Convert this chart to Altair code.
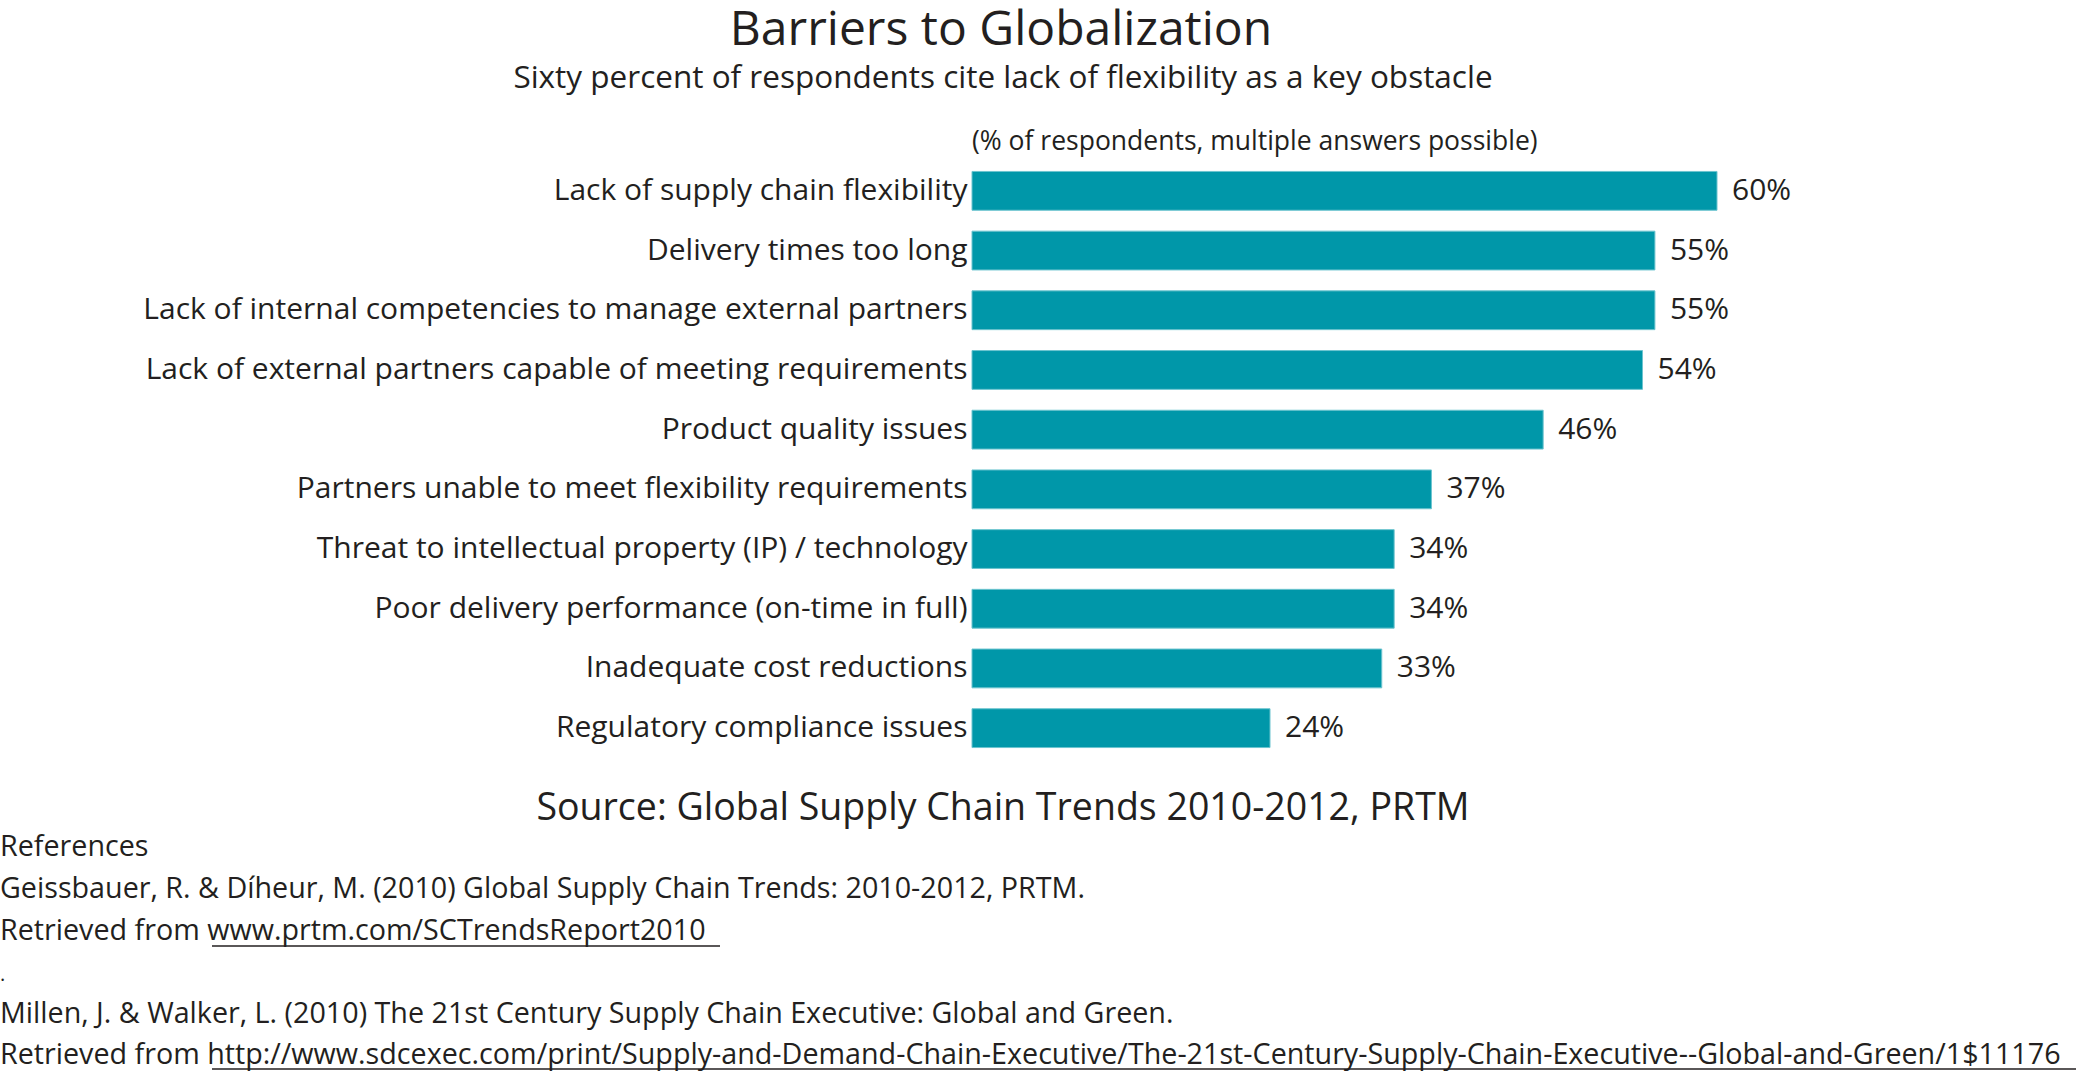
import altair as alt
import pandas as pd

categories = [
    "Lack of supply chain flexibility",
    "Delivery times too long",
    "Lack of internal competencies to manage external partners",
    "Lack of external partners capable of meeting requirements",
    "Product quality issues",
    "Partners unable to meet flexibility requirements",
    "Threat to intellectual property (IP) / technology",
    "Poor delivery performance (on-time in full)",
    "Inadequate cost reductions",
    "Regulatory compliance issues",
]
values = [60, 55, 55, 54, 46, 37, 34, 34, 33, 24]

title_text = "Barriers to Globalization"
subtitle_text = "Sixty percent of respondents cite lack of flexibility as a key obstacle"
note_text = "(% of respondents, multiple answers possible)"
source_text = "Source: Global Supply Chain Trends 2010-2012, PRTM"
ref_lines = [
    "References",
    "Geissbauer, R. & Díheur, M. (2010) Global Supply Chain Trends: 2010-2012, PRTM.",
    "Retrieved from www.prtm.com/SCTrendsReport2010 ",
    ".",
    "Millen, J. & Walker, L. (2010) The 21st Century Supply Chain Executive: Global and Green.",
    "Retrieved from http://www.sdcexec.com/print/Supply-and-Demand-Chain-Executive/The-21st-Century-Supply-Chain-Executive--Global-and-Green/1$11176",
]

df = pd.DataFrame({"category": categories, "value": values})
df["label"] = [f"{v}%" for v in values]

FONT = "Open Sans"
TXT = "#231f20"
BAR = "#0097a9"

W, H = 745, 597
LEFT, TOP = 972, 161

y_enc = alt.Y(
    "category:N",
    sort=categories,
    title=None,
    scale=alt.Scale(paddingInner=0.35, paddingOuter=0.175),
    axis=alt.Axis(
        domain=False, ticks=False, labelLimit=1200, labelPadding=5,
        labelFont=FONT, labelFontSize=30, labelColor=TXT,
    ),
)
x_enc = alt.X(
    "value:Q",
    title=None,
    scale=alt.Scale(domain=[0, 60], nice=False),
    axis=None,
)

bars = alt.Chart(df).mark_bar(color=BAR, stroke="#6cc4cf", strokeWidth=1).encode(x=x_enc, y=y_enc)
labels = alt.Chart(df).mark_text(
    align="left", baseline="middle", dx=15, font=FONT, fontSize=30, color=TXT
).encode(x=x_enc, y=y_enc, text="label:N")

one = alt.Data(values=[{"a": 1}])

def txt(text, x, y, size, align="left"):
    return alt.Chart(one).mark_text(
        text=text, align=align, baseline="middle", font=FONT, fontSize=size, color=TXT
    ).encode(x=alt.value(x), y=alt.value(y))

def uline(x1, x2, y):
    return alt.Chart(one).mark_rule(color=TXT, strokeWidth=1.5).encode(
        x=alt.value(x1), x2=alt.value(x2), y=alt.value(y)
    )

ref_y = [847, 889, 931, 975, 1014, 1055]

layers = [
    bars, labels,
    txt(title_text, 1001 - LEFT, 31 - TOP, 48, "center"),
    txt(subtitle_text, 1003 - LEFT, 79 - TOP, 31.5, "center"),
    txt(note_text, 0, 142 - TOP, 26.5),
    txt(source_text, 1003 - LEFT, 809 - TOP, 37.5, "center"),
]
for line, yy in zip(ref_lines, ref_y):
    layers.append(txt(line, -LEFT, yy - TOP, 28.7 if line != "." else 20))
layers.append(uline(212 - LEFT, 720 - LEFT, 946 - TOP))
layers.append(uline(212 - LEFT, 2076 - LEFT, 1069 - TOP))

chart = alt.layer(*layers).properties(
    width=W, height=H,
    autosize=alt.AutoSizeParams(type="none"),
    padding={"left": LEFT, "top": TOP, "right": 2080 - LEFT - W, "bottom": 1071 - TOP - H},
    background="white",
).configure_view(stroke=None)

chart.save("out.html", embed_options={"renderer": "svg", "actions": False})
